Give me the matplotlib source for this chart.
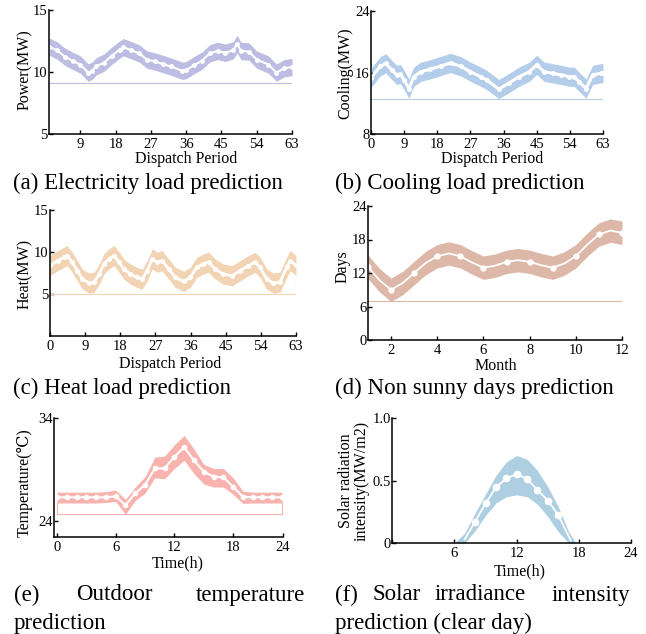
import matplotlib.pyplot as plt
import numpy as np

plt.rcParams['font.family'] = ['Liberation Serif', 'DejaVu Serif']

W, H = 646, 634

# (a) electricity load, dispatch periods
elec_t = [1, 3, 5, 7, 9, 11, 12, 13, 15, 17, 19, 20, 22, 24, 26, 28, 30, 32, 35, 36,
          38, 40, 42, 44, 46, 48, 49, 50, 52, 54, 57, 59, 61, 63]
elec_mean = [12.05, 11.75, 11.25, 10.9, 10.6, 9.95, 10.1, 10.45, 10.75, 11.3, 11.8, 12.0,
             11.75, 11.5, 11.0, 10.85, 10.65, 10.45, 10.1, 10.15, 10.55, 10.9, 11.5, 11.7,
             11.55, 11.75, 12.25, 11.7, 11.65, 11.0, 10.6, 9.95, 10.3, 10.4]
elec_hw = 0.7
elec_base = 9.15

# (b) cooling load
cool_t = [0, 2.5, 4, 5.7, 7, 8, 9, 10.3, 11.6, 13.5, 16, 19, 21.6, 24.4, 27, 29.8, 31.5,
          34.7, 37.4, 40.2, 43, 45, 47, 49.3, 51.5, 53.8, 55.2, 56.5, 58.4, 60.2, 62.5, 63]
cool_mean = [15.3, 16.8, 17.2, 16.3, 15.7, 15.8, 15.0, 13.9, 15.45, 16.1, 16.4, 16.85, 17.25,
             16.8, 16.1, 15.45, 15.0, 13.85, 14.6, 15.45, 16.1, 17.0, 16.1, 15.9, 15.7, 15.45,
             15.45, 14.8, 13.9, 15.7, 15.9, 15.9]
cool_hw = 1.25
cool_base = 12.56

# (c) heat load
heat_t = [0, 2, 3.6, 4.4, 5.7, 7, 8.3, 10, 11.3, 12.6, 13.8, 15.1, 16.4, 17.7, 18.9, 20.6,
          22.3, 23.6, 24.9, 26.2, 27.5, 28.7, 30.4, 32.1, 34.2, 35.9, 37.6, 39.3, 40.6, 42.3,
          44.4, 46.6, 48.7, 50.8, 52.5, 53.8, 55.5, 57.2, 58.9, 60.6, 61.5, 63]
heat_mean = [8.4, 8.98, 9.37, 9.58, 8.77, 7.77, 6.77, 6.3, 6.4, 7.37, 8.58, 9.18, 9.58, 8.77,
             7.97, 7.37, 6.97, 6.77, 7.77, 9.18, 8.77, 8.98, 7.97, 6.97, 6.5, 6.97, 8.17, 8.58,
             8.77, 7.97, 7.37, 7.17, 7.77, 8.37, 8.77, 8.17, 6.77, 6.3, 6.4, 8.17, 8.98, 8.4]
heat_hw = 1.2
heat_base = 5.0

# (d) non sunny days per month
month = [1, 1.5, 2, 2.5, 3, 3.5, 4, 4.5, 5, 5.5, 6, 6.5, 7, 7.5, 8, 8.5, 9, 9.5, 10, 10.5,
         11, 11.5, 12]
days = [13.1, 10.7, 9.0, 10.2, 12.0, 13.8, 15.0, 15.5, 15.0, 13.9, 12.95, 13.3, 14.0, 14.3,
        14.0, 13.4, 12.95, 13.7, 15.0, 17.1, 18.9, 19.6, 19.2]
days_hw = 2.1
days_base = 7.0

# (e) outdoor temperature, hourly
hour = list(range(24))
temp_mean = [26.3, 26.3, 26.3, 26.3, 26.3, 26.3, 26.4, 25.55, 26.7, 27.5, 29.1, 29.1, 30.25,
             31.15, 29.9, 28.8, 28.3, 28.25, 27.33, 26.36, 26.3, 26.3, 26.3, 26.3]
temp_hi = [26.8, 26.8, 26.8, 26.8, 26.8, 26.85, 27.0, 26.1, 27.3, 28.3, 30.2, 30.3, 31.4,
           32.3, 31.0, 29.5, 29.1, 29.1, 28.2, 26.9, 26.8, 26.8, 26.8, 26.8]
temp_lo = [25.75, 25.75, 25.75, 25.75, 25.75, 25.8, 25.9, 24.65, 26.0, 26.7, 28.2, 28.1, 29.1,
           29.9, 28.6, 27.6, 27.3, 27.3, 26.6, 25.7, 25.75, 25.75, 25.75, 25.75]
temp_base = 24.65

# (f) solar irradiance, clear day
sun_band_h = [6, 7, 8, 9, 10, 11, 12, 13, 14, 15, 16, 17, 17.7]
sun_hi = [0, 0.08, 0.24, 0.39, 0.54, 0.65, 0.70, 0.67, 0.58, 0.45, 0.29, 0.09, 0]
sun_lo = [0, 0.0, 0.10, 0.22, 0.32, 0.37, 0.385, 0.37, 0.31, 0.21, 0.09, 0.0, 0]
sun_h = [7, 8, 9, 10, 11, 12, 13, 14, 15, 16, 17.2]
sun_mean = [0.03, 0.17, 0.317, 0.445, 0.517, 0.552, 0.512, 0.424, 0.339, 0.224, 0.02]

fig = plt.figure(figsize=(W / 100, H / 100), dpi=100)


def add_axes(l, t, r, b):
    ax = fig.add_axes([l / W, 1 - b / H, (r - l) / W, (b - t) / H])
    ax.spines[['top', 'right']].set_visible(False)
    for s in ['left', 'bottom']:
        ax.spines[s].set_linewidth(1.1)
    ax.tick_params(direction='in', length=3, width=1, labelsize=10.5)
    ax.tick_params(axis='x', pad=3)
    ax.tick_params(axis='y', pad=1)
    return ax


def labels(ax, xl, xpos, yl, ypos):
    ax.set_xlabel(xl, fontsize=11.5, va='center')
    ax.xaxis.set_label_coords(xpos[0] / W, 1 - xpos[1] / H, transform=fig.transFigure)
    ax.set_ylabel(yl, fontsize=11.5, va='center', linespacing=1.0)
    ax.yaxis.set_label_coords(ypos[0] / W, 1 - ypos[1] / H, transform=fig.transFigure)


def band(ax, x, lo, hi, mean, color, base, lw=1.5, ms=2.5, mark=None, left_edge=False):
    x = np.asarray(x)
    lo = np.asarray(lo)
    hi = np.asarray(hi)
    ax.fill_between(x, lo, hi, color=color, lw=0)
    # outline closing the band down to its floor
    if left_edge:
        ax.plot([x[0], x[0]], [lo[0], base], color=color, lw=0.8)
    ax.plot([x[0], x[-1]], [base, base], color=color, lw=0.8)
    ax.plot([x[-1], x[-1]], [lo[-1], base], color=color, lw=0.8)
    ax.plot(x, mean, color='white', lw=lw, marker='o', ms=ms, mec='white', mfc='white',
            markevery=mark)


def caption(x, y, s, ha='left'):
    fig.text(x / W, 1 - y / H, s, fontsize=16.5, ha=ha, va='center')


# (a)
ax = add_axes(49, 10, 292, 134)
m = np.array(elec_mean)
band(ax, elec_t, m - elec_hw, m + elec_hw, m, '#BDBDE4', elec_base)
ax.set_xlim(1, 63)
ax.set_ylim(5, 15)
ax.set_xticks(range(9, 64, 9))
ax.set_yticks([5, 10, 15])
labels(ax, 'Dispatch Period', (186, 159), 'Power(MW)', (25, 70))
caption(13, 183, '(a) Electricity load prediction')

# (b)
ax = add_axes(371, 11, 603, 134)
m = np.array(cool_mean)
band(ax, cool_t, m - cool_hw, m + cool_hw, m, '#B4CDEA', cool_base, lw=2.2)
ax.set_xlim(0, 63)
ax.set_ylim(8, 24)
ax.set_xticks(range(0, 64, 9))
ax.set_yticks([8, 16, 24])
labels(ax, 'Dispatch Period', (492, 159), 'Cooling(MW)', (345, 73))
caption(335, 183, '(b) Cooling load prediction')

# (c)
ax = add_axes(50, 210, 296, 336)
m = np.array(heat_mean)
band(ax, heat_t, m - heat_hw, m + heat_hw, m, '#F2D4B4', heat_base, lw=2)
ax.set_xlim(0, 63)
ax.set_ylim(0, 15)
ax.set_xticks(range(0, 64, 9))
ax.set_yticks([5, 10, 15])
labels(ax, 'Dispatch Period', (170, 364), 'Heat(MW)', (25, 274))
caption(13, 388, '(c) Heat load prediction')

# (d)
ax = add_axes(368, 206, 622, 340)
m = np.array(days)
band(ax, month, m - days_hw, m + days_hw, m, '#DDB8A9', days_base, lw=1.3, ms=3.5, mark=2)
ax.set_xlim(1, 12)
ax.set_ylim(0, 24)
ax.set_xticks(range(2, 13, 2))
ax.set_yticks([0, 6, 12, 18, 24])
labels(ax, 'Month', (496, 366), 'Days', (343, 267))
caption(335, 388, '(d) Non sunny days prediction')

# (e)
ax = add_axes(54, 418, 283, 537)
band(ax, hour, temp_lo, temp_hi, temp_mean, '#F9B3AF', temp_base, lw=1.5, ms=3,
     left_edge=True)
ax.set_xlim(-0.3, 23.1)
ax.set_ylim(22.45, 34)
ax.set_xticks([0, 6, 12, 18, 23.1])
ax.set_xticklabels(['0', '6', '12', '18', '24'])
ax.set_yticks([24, 34])
labels(ax, 'Time(h)', (178, 563), 'Temperature(\u2103)', (25, 483))
caption(14, 595, '(e)')
caption(76, 595, 'Outdoor')
caption(305, 595, 'temperature', ha='right')
caption(14, 623, 'prediction')

# (f)
ax = add_axes(392, 418, 631, 543)
ax.fill_between(sun_band_h, sun_lo, sun_hi, color='#AECFE2', lw=0)
ax.plot(sun_h, sun_mean, color='white', lw=1.3, marker='o', ms=4.5, mfc='white',
        mec='white', markevery=slice(1, -1))
ax.set_xlim(0, 23)
ax.set_ylim(0, 1.0)
ax.set_xticks([0, 6, 12, 18, 23])
ax.set_xticklabels(['', '6', '12', '18', '24'])
ax.set_yticks([0, 0.5, 1.0])
ax.set_yticklabels(['0', '0.5', '1.0'])
labels(ax, 'Time(h)', (520, 571), 'Solar radiation\nintensity(MW/m2)', (354, 481))
caption(335, 595, '(f)')
caption(373, 595, 'Solar')
caption(435, 595, 'irradiance')
caption(630, 595, 'intensity', ha='right')
caption(335, 623, 'prediction (clear day)')

fig.savefig('out.png', dpi=100)
